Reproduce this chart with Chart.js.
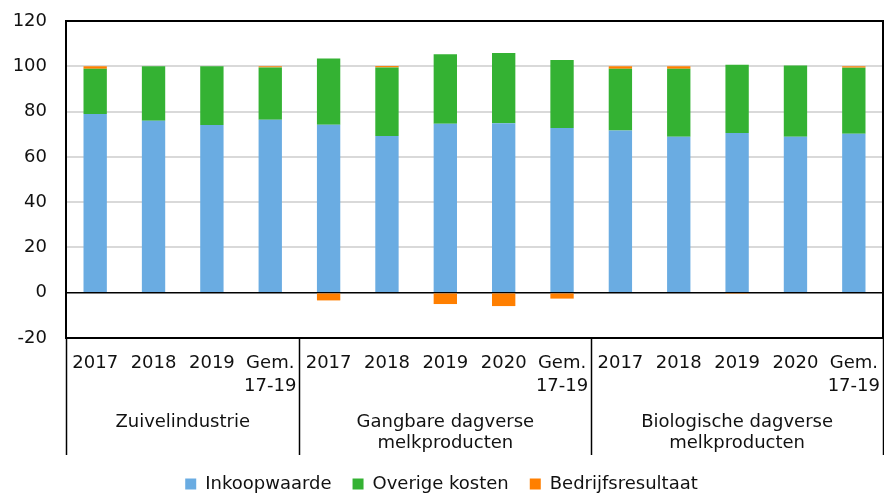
<!DOCTYPE html>
<html>
<head>
<meta charset="utf-8">
<script src="https://cdn.jsdelivr.net/npm/chart.js@4.4.1/dist/chart.umd.min.js"></script>
<style>
  html, body { margin: 0; padding: 0; background: #fff; }
  #wrap { width: 884px; height: 493px; position: relative; }
</style>
</head>
<body>
<div id="wrap"><canvas id="chart"></canvas></div>
<script>
// Years per sector, "Gem. 17-19" is the 2017-2019 average
const categories = [
  '2017', '2018', '2019', ['Gem.', '17-19'],
  '2017', '2018', '2019', '2020', ['Gem.', '17-19'],
  '2017', '2018', '2019', '2020', ['Gem.', '17-19']
];
const groupNames = [
  ['Zuivelindustrie'],
  ['Gangbare dagverse', 'melkproducten'],
  ['Biologische dagverse', 'melkproducten']
];
const groupSizes = [4, 5, 5];

const inkoopwaarde = [78.9, 76.0, 74.1, 76.4, 74.2, 69.2, 74.6, 74.8, 72.7, 71.6, 68.9, 70.5, 68.9, 70.2];
const overigeKosten = [20.0, 24.0, 25.9, 23.1, 29.2, 30.3, 30.7, 31.1, 30.1, 27.3, 30.0, 30.2, 31.4, 29.2];
const bedrijfsresultaat = [1.1, 0, 0, 0.5, -3.4, 0.6, -5.0, -5.9, -2.6, 1.1, 1.1, -0.5, 0, 0.6];

const yTicks = [-20, 0, 20, 40, 60, 80, 100, 120];

const FONT = 'DejaVu Sans, Verdana, sans-serif';

// labels may hang over the plot edges; keep the plot box where it is
function noOverhang(scale) {
  scale.paddingLeft = 0;
  scale.paddingRight = 0;
  scale.paddingTop = 0;
  scale.paddingBottom = 0;
}

// frame around the plot plus the sector dividers and names below the years
const groupFrame = {
  id: 'groupFrame',
  afterDraw(chart) {
    const { ctx, chartArea: a, scales: { x } } = chart;
    const half = (x.getPixelForValue(1) - x.getPixelForValue(0)) / 2;
    ctx.save();
    ctx.strokeStyle = '#000';
    ctx.lineWidth = 2;
    ctx.strokeRect(a.left, a.top, a.right - a.left, a.bottom - a.top);

    const edges = [a.left];
    let idx = 0;
    groupSizes.forEach(n => {
      idx += n;
      edges.push(Math.min(x.getPixelForValue(idx - 1) + half, a.right));
    });

    const lineBottom = a.bottom + 117;
    ctx.lineWidth = 1.5;
    edges.forEach(px => {
      ctx.beginPath();
      ctx.moveTo(Math.round(px) + 0.5, a.bottom);
      ctx.lineTo(Math.round(px) + 0.5, lineBottom);
      ctx.stroke();
    });

    ctx.fillStyle = '#111';
    ctx.font = '18px ' + FONT;
    ctx.textAlign = 'center';
    ctx.textBaseline = 'middle';
    groupNames.forEach((lines, g) => {
      const cx = (edges[g] + edges[g + 1]) / 2;
      lines.forEach((t, l) => ctx.fillText(t, cx, a.bottom + 84 + l * 21));
    });
    ctx.restore();
  }
};

new Chart(document.getElementById('chart'), {
  type: 'bar',
  data: {
    labels: categories,
    datasets: [
      { label: 'Inkoopwaarde', data: inkoopwaarde, backgroundColor: '#6AACE2' },
      { label: 'Overige kosten', data: overigeKosten, backgroundColor: '#34B233' },
      { label: 'Bedrijfsresultaat', data: bedrijfsresultaat, backgroundColor: '#FF7F00' }
    ]
  },
  options: {
    responsive: true,
    maintainAspectRatio: false,
    animation: false,
    layout: { padding: { top: 21, right: 1, left: 0, bottom: -10 } },
    datasets: { bar: { categoryPercentage: 1, barPercentage: 0.4 } },
    plugins: {
      tooltip: { enabled: false },
      legend: {
        position: 'bottom',
        labels: {
          font: { family: FONT, size: 18 },
          color: '#111',
          boxWidth: 11,
          boxHeight: 11,
          padding: 21
        }
      }
    },
    scales: {
      x: {
        stacked: true,
        grid: { display: false, drawTicks: false },
        border: { display: false },
        ticks: {
          font: { family: FONT, size: 18, lineHeight: 1.28 },
          color: '#111',
          padding: 14,
          maxRotation: 0,
          autoSkip: false
        },
        afterFit(scale) {
          scale.height = 116;
          noOverhang(scale);
        }
      },
      y: {
        stacked: true,
        min: -20,
        max: 120,
        afterBuildTicks(scale) { scale.ticks = yTicks.map(v => ({ value: v })); },
        afterFit(scale) {
          scale.width = 66;
          noOverhang(scale);
        },
        grid: {
          drawTicks: false,
          color: ctx => ctx.tick && ctx.tick.value === 0 ? '#000' : '#d9d9d9',
          lineWidth: ctx => ctx.tick && ctx.tick.value === 0 ? 1.5 : 2
        },
        border: { display: true, color: '#000', width: 2 },
        ticks: {
          font: { family: FONT, size: 18 },
          color: '#111',
          padding: 19
        }
      }
    }
  },
  plugins: [groupFrame]
});
</script>
</body>
</html>
